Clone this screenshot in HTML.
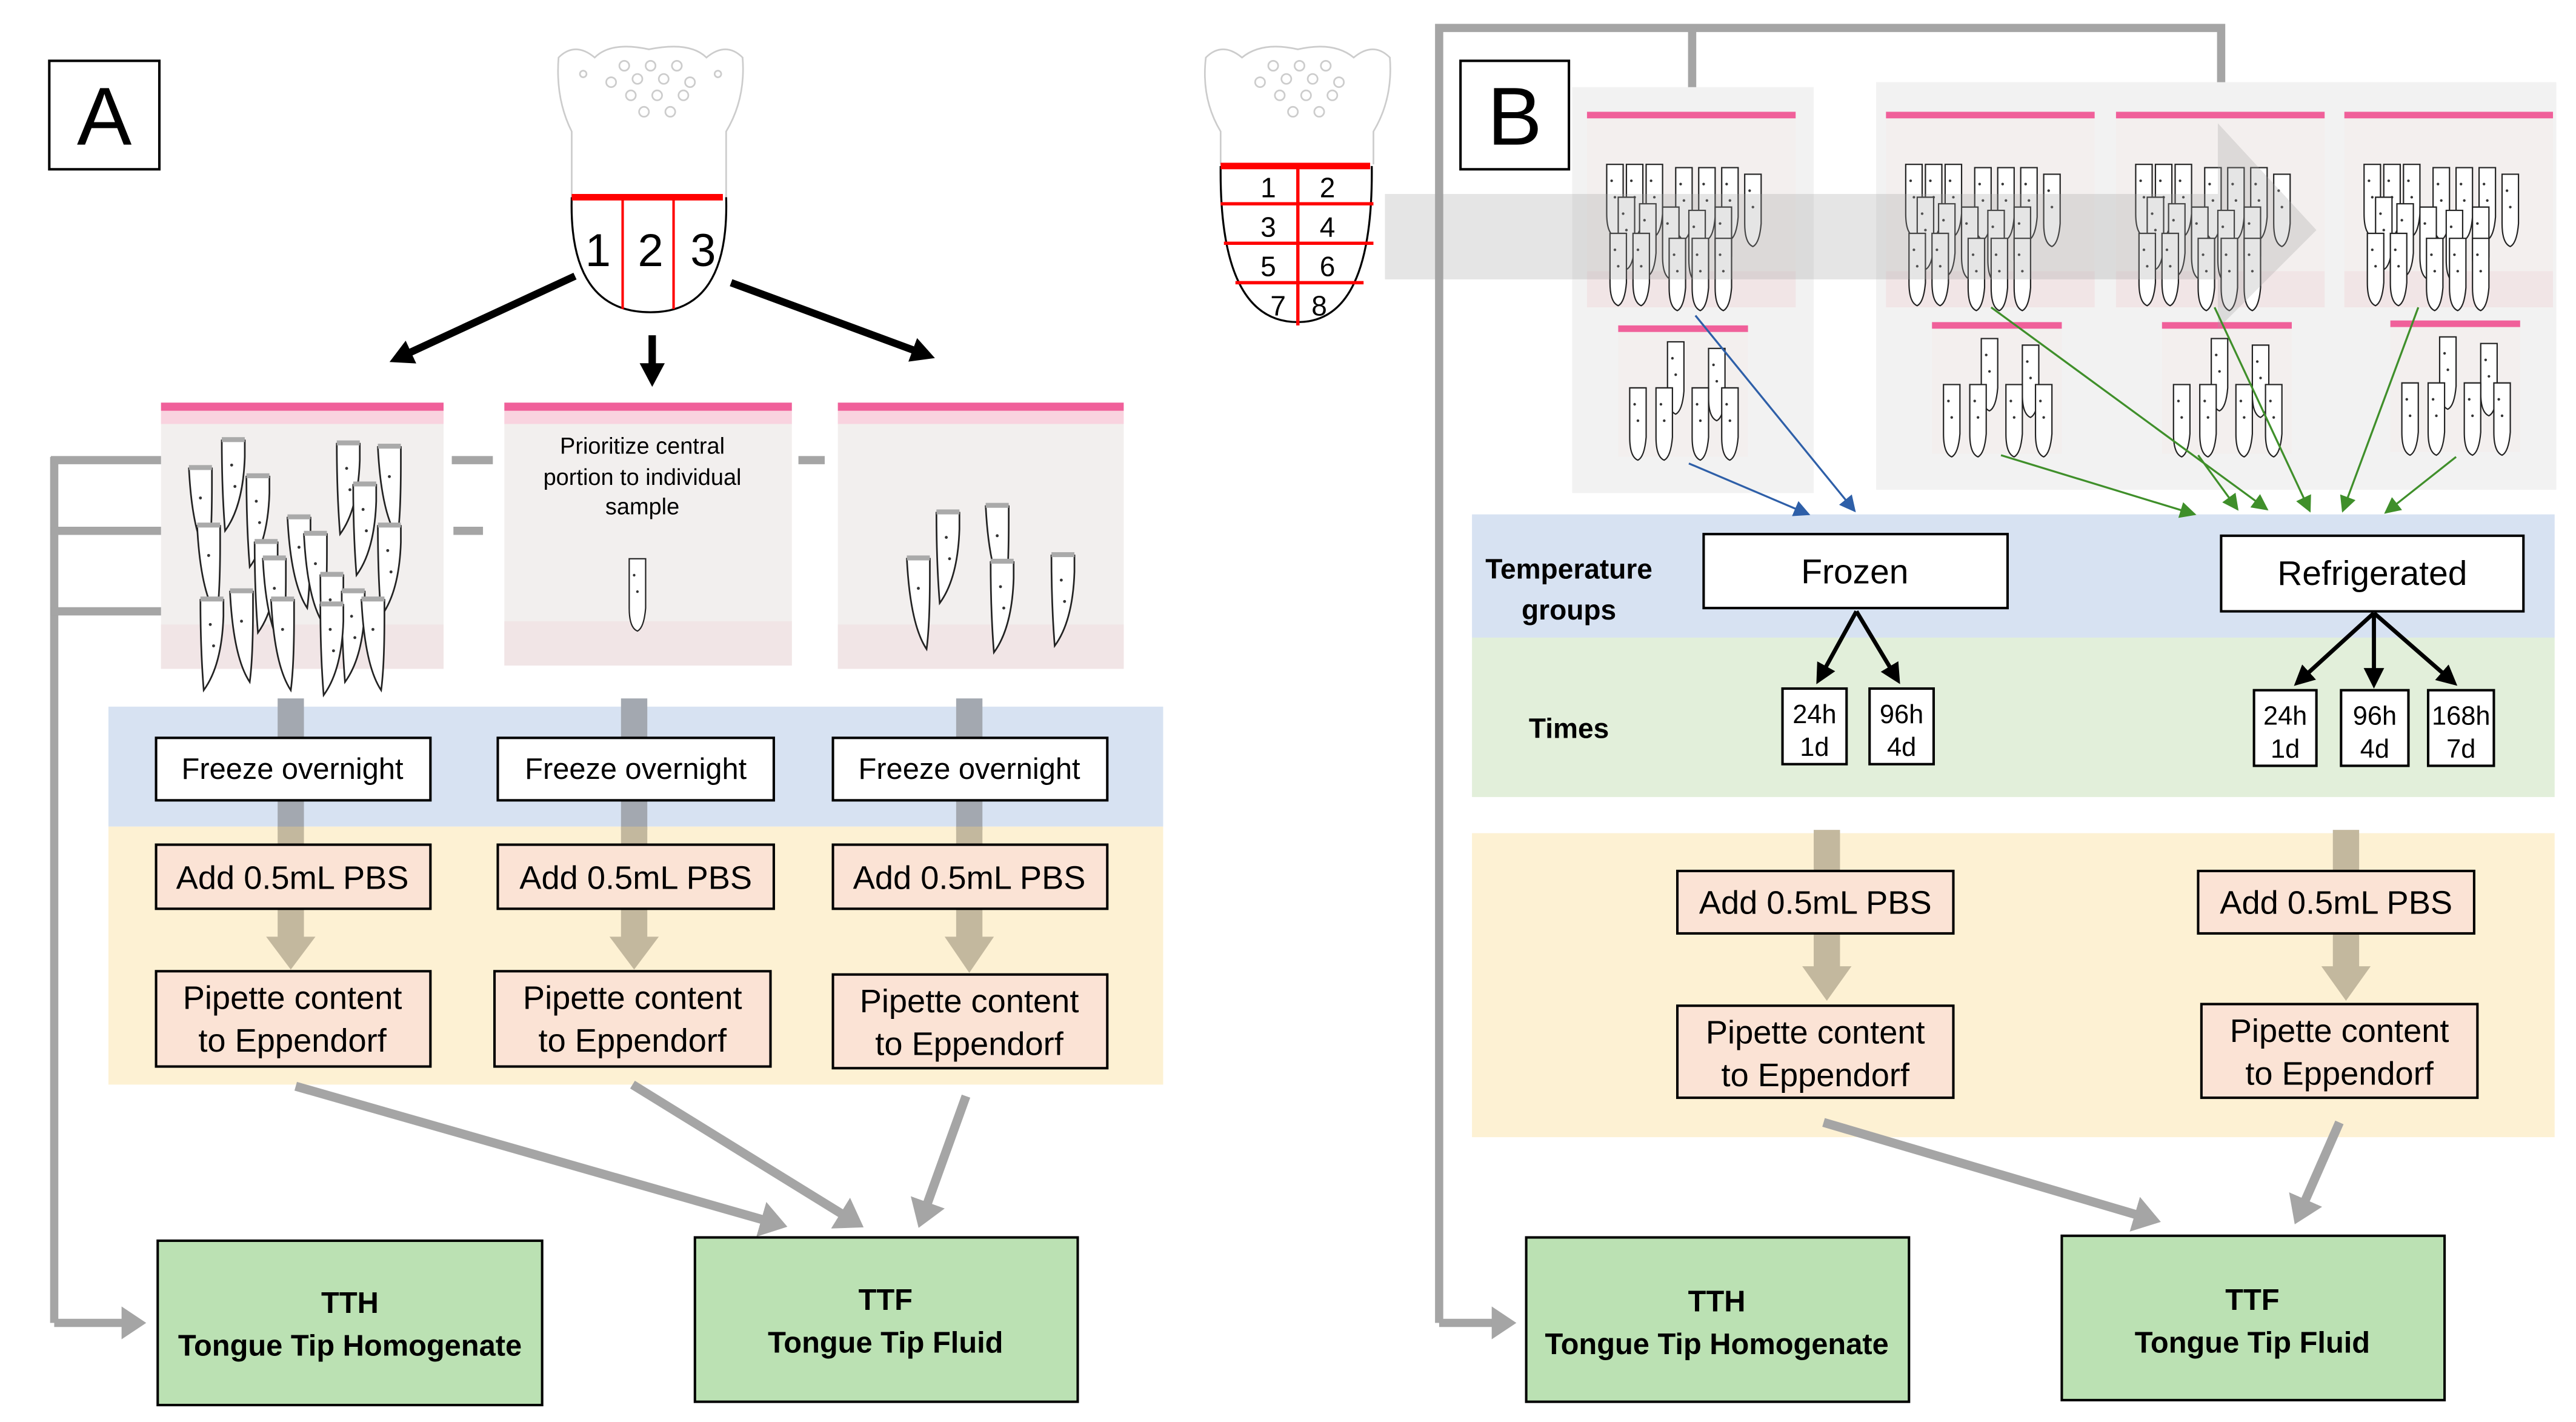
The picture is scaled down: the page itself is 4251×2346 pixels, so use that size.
<!DOCTYPE html>
<html><head><meta charset="utf-8"><style>
html,body{margin:0;padding:0;background:#fff}
svg{display:block}
text{font-family:"Liberation Sans Narrow","Liberation Sans",sans-serif}
</style></head><body>
<svg width="4251" height="2346" viewBox="0 0 1568 865.3" xmlns="http://www.w3.org/2000/svg">
<defs>
<marker id="ab" markerWidth="4" markerHeight="4" refX="2" refY="2" orient="auto" markerUnits="strokeWidth"><path d="M0,0.3 L3.2,2 L0,3.7 Z" fill="#000"/></marker>
<marker id="ag" markerWidth="4" markerHeight="4" refX="2" refY="2" orient="auto" markerUnits="strokeWidth"><path d="M0,0 L3,2 L0,4 Z" fill="#a5a5a5"/></marker>
<marker id="ab2" markerWidth="5" markerHeight="5" refX="3" refY="2.5" orient="auto" markerUnits="strokeWidth"><path d="M0,0 L5,2.5 L0,5 Z" fill="#000"/></marker>
<marker id="bl" markerWidth="10" markerHeight="10" refX="9" refY="5" orient="auto" markerUnits="userSpaceOnUse"><path d="M0,0 L10,5 L0,10 Z" fill="#2e5fa8"/></marker>
<marker id="gr" markerWidth="10" markerHeight="10" refX="9" refY="5" orient="auto" markerUnits="userSpaceOnUse"><path d="M0,0 L10,5 L0,10 Z" fill="#3f8f2a"/></marker>
<g id="pc"><path d="M0,0 L14,0 L14,10 Q13,40 2,55 Q0,30 0,0 Z" fill="#fff" stroke="#222" stroke-width="1"/><rect x="0" y="-2" width="14" height="3" fill="#aaa"/><circle cx="6" cy="15" r="0.9" fill="#333"/><circle cx="8" cy="28" r="0.9" fill="#333"/></g>
<g id="pc2"><path d="M0,0 L14,0 L14,10 Q14,40 12,55 Q2,40 0,0 Z" fill="#fff" stroke="#222" stroke-width="1"/><rect x="0" y="-2" width="14" height="3" fill="#aaa"/><circle cx="7" cy="18" r="0.9" fill="#333"/></g>
<g id="sp"><path d="M0,0 L10,0 L10,30 Q9,42 5,44 Q0,42 0,30 Z" fill="#fff" stroke="#222" stroke-width="0.8"/><circle cx="5" cy="20" r="0.8" fill="#333"/><circle cx="3" cy="10" r="0.8" fill="#333"/></g>
</defs>

<!-- ============ PANEL A ============ -->
<rect x="30" y="37" width="67" height="66" fill="#fff" stroke="#000" stroke-width="1.5"/>
<text x="63.5" y="88" font-size="50" text-anchor="middle" style="font-family:'Liberation Sans',sans-serif">A</text>

<!-- tongue A -->
<g fill="none" stroke="#ccc" stroke-width="1">
<path d="M348,120 L348,80 Q338,60 340,35 Q350,25 362,35 Q372,25 395,30 Q420,25 430,35 Q442,25 452,35 Q454,60 442,80 L442,120"/>
<circle cx="380" cy="40" r="3"/><circle cx="388" cy="48" r="3"/><circle cx="396" cy="40" r="3"/><circle cx="404" cy="48" r="3"/><circle cx="412" cy="40" r="3"/><circle cx="384" cy="58" r="3"/><circle cx="400" cy="58" r="3"/><circle cx="416" cy="58" r="3"/><circle cx="372" cy="50" r="3"/><circle cx="420" cy="50" r="3"/><circle cx="392" cy="68" r="3"/><circle cx="408" cy="68" r="3"/><circle cx="355" cy="45" r="2"/><circle cx="437" cy="45" r="2"/>
</g>
<path d="M348,120 Q346,190 396,190 Q444,190 442,120" fill="#fff" stroke="#000" stroke-width="1.2"/>
<line x1="348" y1="120" x2="440" y2="120" stroke="#f00" stroke-width="4"/>
<line x1="379" y1="120" x2="379" y2="188" stroke="#f00" stroke-width="1.5"/>
<line x1="410" y1="120" x2="410" y2="188" stroke="#f00" stroke-width="1.5"/>
<text x="364" y="162" font-size="28" text-anchor="middle">1</text>
<text x="396" y="162" font-size="28" text-anchor="middle">2</text>
<text x="428" y="162" font-size="28" text-anchor="middle">3</text>

<!-- black arrows A -->
<line x1="350" y1="168" x2="242" y2="218" stroke="#000" stroke-width="4.5" marker-end="url(#ab)"/>
<line x1="397" y1="204" x2="397" y2="230" stroke="#000" stroke-width="4.5" marker-end="url(#ab)"/>
<line x1="445" y1="172" x2="564" y2="216" stroke="#000" stroke-width="4.5" marker-end="url(#ab)"/>

<!-- gray left connectors A -->
<g stroke="#a5a5a5" stroke-width="5" fill="none">
<line x1="33" y1="278" x2="33" y2="805"/>
<line x1="31" y1="280" x2="100" y2="280"/>
<line x1="31" y1="323" x2="100" y2="323"/>
<line x1="31" y1="372" x2="100" y2="372"/>
<line x1="275" y1="280" x2="300" y2="280"/>
<line x1="276" y1="323" x2="294" y2="323"/>
<line x1="486" y1="280" x2="502" y2="280"/>
<line x1="33" y1="805" x2="84" y2="805" marker-end="url(#ag)"/>
</g>

<!-- bags A -->
<g>
<rect x="98" y="245" width="172" height="162" fill="#f2efee"/>
<rect x="98" y="245" width="172" height="5" fill="#f0609a"/>
<rect x="98" y="250" width="172" height="8" fill="#f9d3df"/>
<rect x="98" y="380" width="172" height="27" fill="#f1e5e6"/>
<use href="#pc" x="135" y="268"/><use href="#pc2" x="115" y="285"/><use href="#pc" x="150" y="290"/><use href="#pc2" x="175" y="315"/><use href="#pc" x="205" y="270"/><use href="#pc2" x="230" y="272"/><use href="#pc" x="215" y="295"/><use href="#pc2" x="120" y="320"/><use href="#pc" x="155" y="330"/><use href="#pc2" x="185" y="325"/><use href="#pc" x="230" y="320"/><use href="#pc2" x="160" y="340"/><use href="#pc" x="195" y="350"/><use href="#pc2" x="140" y="360"/><use href="#pc" x="122" y="365"/><use href="#pc2" x="165" y="365"/><use href="#pc" x="208" y="360"/><use href="#pc2" x="220" y="365"/><use href="#pc" x="195" y="368"/>
</g>
<g>
<rect x="307" y="245" width="175" height="160" fill="#f2efee"/>
<rect x="307" y="245" width="175" height="5" fill="#f0609a"/>
<rect x="307" y="250" width="175" height="8" fill="#f9d3df"/>
<rect x="307" y="378" width="175" height="27" fill="#f1e5e6"/>
<text x="391" y="276" font-size="14" text-anchor="middle">Prioritize central</text>
<text x="391" y="295" font-size="14" text-anchor="middle">portion to individual</text>
<text x="391" y="313" font-size="14" text-anchor="middle">sample</text>
<use href="#sp" x="383" y="340"/>
</g>
<g>
<rect x="510" y="245" width="174" height="162" fill="#f2efee"/>
<rect x="510" y="245" width="174" height="5" fill="#f0609a"/>
<rect x="510" y="250" width="174" height="8" fill="#f9d3df"/>
<rect x="510" y="380" width="174" height="27" fill="#f1e5e6"/>
<use href="#pc" x="570" y="312"/><use href="#pc2" x="600" y="308"/><use href="#pc" x="640" y="338"/><use href="#pc2" x="552" y="340"/><use href="#pc" x="603" y="342"/>
</g>

<!-- bands A -->
<rect x="66" y="430" width="642" height="73" fill="#d7e2f2"/>
<rect x="66" y="503" width="642" height="157" fill="#fdf1d3"/>
<g>
<rect x="169" y="425" width="16" height="80" fill="#a3a8b0"/>
<rect x="378" y="425" width="16" height="80" fill="#a3a8b0"/>
<rect x="582" y="425" width="16" height="80" fill="#a3a8b0"/>
<rect x="169" y="503" width="16" height="70" fill="#c3b89e"/>
<rect x="378" y="503" width="16" height="70" fill="#c3b89e"/>
<rect x="582" y="503" width="16" height="70" fill="#c3b89e"/>
<path d="M162,570 L192,570 L177,590 Z" fill="#c3b89e"/>
<path d="M371,570 L401,570 L386,590 Z" fill="#c3b89e"/>
<path d="M575,570 L605,570 L590,592 Z" fill="#c3b89e"/>
</g>
<g stroke="#000" stroke-width="1.5">
<rect x="95" y="449" width="167" height="38" fill="#fff"/>
<rect x="303" y="449" width="168" height="38" fill="#fff"/>
<rect x="507" y="449" width="167" height="38" fill="#fff"/>
<rect x="95" y="514" width="167" height="39" fill="#fbe3d5"/>
<rect x="303" y="514" width="168" height="39" fill="#fbe3d5"/>
<rect x="507" y="514" width="167" height="39" fill="#fbe3d5"/>
<rect x="95" y="591" width="167" height="58" fill="#fbe3d5"/>
<rect x="301" y="591" width="168" height="58" fill="#fbe3d5"/>
<rect x="507" y="593" width="167" height="57" fill="#fbe3d5"/>
</g>
<g font-size="18" text-anchor="middle">
<text x="178" y="474">Freeze overnight</text>
<text x="387" y="474">Freeze overnight</text>
<text x="590" y="474">Freeze overnight</text>
</g>
<g font-size="20" text-anchor="middle">
<text x="178" y="541">Add 0.5mL PBS</text>
<text x="387" y="541">Add 0.5mL PBS</text>
<text x="590" y="541">Add 0.5mL PBS</text>
<text x="178" y="614">Pipette content</text><text x="178" y="640">to Eppendorf</text>
<text x="385" y="614">Pipette content</text><text x="385" y="640">to Eppendorf</text>
<text x="590" y="616">Pipette content</text><text x="590" y="642">to Eppendorf</text>
</g>

<!-- gray arrows A -->
<g stroke="#a5a5a5" stroke-width="5.5" fill="none">
<line x1="180" y1="661" x2="474" y2="745" marker-end="url(#ag)"/>
<line x1="385" y1="660" x2="521" y2="744" marker-end="url(#ag)"/>
<line x1="588" y1="667" x2="561" y2="742" marker-end="url(#ag)"/>
</g>

<!-- green A -->
<rect x="96" y="755" width="234" height="100" fill="#bbe1b3" stroke="#000" stroke-width="1.5"/>
<rect x="423" y="753" width="233" height="100" fill="#bbe1b3" stroke="#000" stroke-width="1.5"/>
<g font-size="18" font-weight="bold" text-anchor="middle">
<text x="213" y="799">TTH</text><text x="213" y="825">Tongue Tip Homogenate</text>
<text x="539" y="797">TTF</text><text x="539" y="823">Tongue Tip Fluid</text>
</g>

<!-- ============ PANEL B ============ -->
<!-- tongue B -->
<g fill="none" stroke="#ccc" stroke-width="1">
<path d="M743,100 L743,80 Q731,60 734,35 Q744,25 756,35 Q768,25 790,30 Q812,25 824,35 Q836,25 846,35 Q848,60 836,80 L836,100"/>
<circle cx="775" cy="40" r="3"/><circle cx="783" cy="48" r="3"/><circle cx="791" cy="40" r="3"/><circle cx="799" cy="48" r="3"/><circle cx="807" cy="40" r="3"/><circle cx="779" cy="58" r="3"/><circle cx="795" cy="58" r="3"/><circle cx="811" cy="58" r="3"/><circle cx="767" cy="50" r="3"/><circle cx="815" cy="50" r="3"/><circle cx="787" cy="68" r="3"/><circle cx="803" cy="68" r="3"/>
</g>
<path d="M743,101 Q742,196 790,196 Q836,196 835,101" fill="#fff" stroke="#000" stroke-width="1.2"/>
<line x1="743" y1="101" x2="834" y2="101" stroke="#f00" stroke-width="4"/>
<line x1="743" y1="124" x2="836" y2="124" stroke="#f00" stroke-width="2"/>
<line x1="745" y1="148" x2="836" y2="148" stroke="#f00" stroke-width="2"/>
<line x1="752" y1="172" x2="830" y2="172" stroke="#f00" stroke-width="2"/>
<line x1="790" y1="100" x2="790" y2="198" stroke="#f00" stroke-width="2"/>
<g font-size="17" text-anchor="middle">
<text x="772" y="120">1</text><text x="808" y="120">2</text>
<text x="772" y="144">3</text><text x="808" y="144">4</text>
<text x="772" y="168">5</text><text x="808" y="168">6</text>
<text x="778" y="192">7</text><text x="803" y="192">8</text>
</g>

<!-- gray frame B -->
<g stroke="#a5a5a5" stroke-width="5" fill="none">
<path d="M876,805 L876,17 L1352,17 L1352,55"/>
<line x1="1030" y1="17" x2="1030" y2="55"/>
<line x1="876" y1="805" x2="918" y2="805" marker-end="url(#ag)"/>
</g>

<rect x="889" y="37" width="66" height="66" fill="#fff" stroke="#000" stroke-width="1.5"/>
<text x="922" y="88" font-size="50" text-anchor="middle" style="font-family:'Liberation Sans',sans-serif">B</text>

<rect x="957" y="53" width="147" height="247" fill="#f2f2f2"/>
<rect x="1142" y="50" width="414" height="248" fill="#f2f2f2"/>

<!-- bags B -->
<g id="bb">
<rect x="966" y="68" width="127" height="119" fill="#f3efee"/>
<rect x="966" y="68" width="127" height="4" fill="#f0609a"/>
<rect x="966" y="165" width="127" height="22" fill="#f1e5e6"/>
<use href="#sp" x="978" y="100"/><use href="#sp" x="990" y="100"/><use href="#sp" x="1002" y="100"/><use href="#sp" x="1020" y="102"/><use href="#sp" x="1034" y="102"/><use href="#sp" x="1048" y="102"/><use href="#sp" x="1062" y="106"/><use href="#sp" x="985" y="120"/><use href="#sp" x="998" y="124"/><use href="#sp" x="1012" y="126"/><use href="#sp" x="1028" y="128"/><use href="#sp" x="1044" y="126"/><use href="#sp" x="980" y="142"/><use href="#sp" x="994" y="142"/><use href="#sp" x="1016" y="145"/><use href="#sp" x="1030" y="145"/><use href="#sp" x="1044" y="145"/>
</g>
<use href="#bb" x="182"/><use href="#bb" x="322"/><use href="#bb" x="461"/>
<g id="sb">
<rect x="985" y="198" width="79" height="80" fill="#f3efee"/>
<rect x="985" y="198" width="79" height="4" fill="#f0609a"/>
<use href="#sp" x="1015" y="208"/><use href="#sp" x="1040" y="212"/><use href="#sp" x="992" y="236"/><use href="#sp" x="1008" y="236"/><use href="#sp" x="1030" y="236"/><use href="#sp" x="1048" y="236"/>
</g>
<use href="#sb" x="191" y="-2"/><use href="#sb" x="331" y="-2"/><use href="#sb" x="470" y="-3"/>

<!-- big translucent arrow -->
<path d="M843,118 L1350,118 L1350,75 L1410,140 L1350,200 L1350,170 L843,170 Z" fill="#a0a0a0" fill-opacity="0.28"/>

<!-- bands B -->
<rect x="896" y="313" width="659" height="75" fill="#d7e2f2"/>
<rect x="896" y="388" width="659" height="97" fill="#e2efda"/>
<rect x="896" y="507" width="659" height="185" fill="#fdf1d3"/>

<!-- blue/green thin arrows -->
<g stroke-width="1.2" fill="none">
<line x1="1032" y1="192" x2="1129" y2="311" stroke="#2e5fa8" marker-end="url(#bl)"/>
<line x1="1028" y1="282" x2="1101" y2="313" stroke="#2e5fa8" marker-end="url(#bl)"/>
<line x1="1212" y1="187" x2="1380" y2="310" stroke="#3f8f2a" marker-end="url(#gr)"/>
<line x1="1218" y1="277" x2="1336" y2="313" stroke="#3f8f2a" marker-end="url(#gr)"/>
<line x1="1348" y1="187" x2="1406" y2="311" stroke="#3f8f2a" marker-end="url(#gr)"/>
<line x1="1338" y1="277" x2="1362" y2="310" stroke="#3f8f2a" marker-end="url(#gr)"/>
<line x1="1472" y1="187" x2="1426" y2="311" stroke="#3f8f2a" marker-end="url(#gr)"/>
<line x1="1495" y1="278" x2="1452" y2="312" stroke="#3f8f2a" marker-end="url(#gr)"/>
</g>

<g font-size="17" font-weight="bold" text-anchor="middle">
<text x="955" y="352">Temperature</text><text x="955" y="377">groups</text>
<text x="955" y="449">Times</text>
</g>
<g stroke="#000" stroke-width="1.5">
<rect x="1037" y="325" width="185" height="45" fill="#fff"/>
<rect x="1352" y="326" width="184" height="46" fill="#fff"/>
<rect x="1085" y="419" width="39" height="46" fill="#fff"/>
<rect x="1138" y="419" width="39" height="46" fill="#fff"/>
<rect x="1372" y="420" width="38" height="46" fill="#fff"/>
<rect x="1425" y="420" width="41" height="46" fill="#fff"/>
<rect x="1478" y="420" width="40" height="46" fill="#fff"/>
</g>
<text x="1129" y="355" font-size="21" text-anchor="middle">Frozen</text>
<text x="1444" y="356" font-size="21" text-anchor="middle">Refrigerated</text>
<g font-size="16" text-anchor="middle">
<text x="1104.5" y="440">24h</text><text x="1104.5" y="460">1d</text>
<text x="1157.5" y="440">96h</text><text x="1157.5" y="460">4d</text>
<text x="1391" y="441">24h</text><text x="1391" y="461">1d</text>
<text x="1445.5" y="441">96h</text><text x="1445.5" y="461">4d</text>
<text x="1498" y="441">168h</text><text x="1498" y="461">7d</text>
</g>
<g stroke="#000" stroke-width="2.5">
<line x1="1130" y1="372" x2="1108" y2="412" marker-end="url(#ab2)"/>
<line x1="1130" y1="372" x2="1154" y2="412" marker-end="url(#ab2)"/>
<line x1="1445" y1="373" x2="1400" y2="414" marker-end="url(#ab2)"/>
<line x1="1445" y1="373" x2="1445" y2="414" marker-end="url(#ab2)"/>
<line x1="1445" y1="373" x2="1492" y2="414" marker-end="url(#ab2)"/>
</g>

<!-- beige connectors B -->
<rect x="1104" y="505" width="16" height="85" fill="#c3b89e"/>
<rect x="1420" y="505" width="16" height="85" fill="#c3b89e"/>
<path d="M1097,588 L1127,588 L1112,609 Z" fill="#c3b89e"/>
<path d="M1413,588 L1443,588 L1428,609 Z" fill="#c3b89e"/>
<g stroke="#000" stroke-width="1.5" fill="#fbe3d5">
<rect x="1021" y="530" width="168" height="38"/>
<rect x="1338" y="530" width="168" height="38"/>
<rect x="1021" y="612" width="168" height="56"/>
<rect x="1340" y="611" width="168" height="57"/>
</g>
<g font-size="20" text-anchor="middle">
<text x="1105" y="556">Add 0.5mL PBS</text>
<text x="1422" y="556">Add 0.5mL PBS</text>
<text x="1105" y="635">Pipette content</text><text x="1105" y="661">to Eppendorf</text>
<text x="1424" y="634">Pipette content</text><text x="1424" y="660">to Eppendorf</text>
</g>
<g stroke="#a5a5a5" stroke-width="5.5" fill="none">
<line x1="1110" y1="683" x2="1310" y2="742" marker-end="url(#ag)"/>
<line x1="1424" y1="683" x2="1399" y2="740" marker-end="url(#ag)"/>
</g>
<rect x="929" y="753" width="233" height="100" fill="#bbe1b3" stroke="#000" stroke-width="1.5"/>
<rect x="1255" y="752" width="233" height="100" fill="#bbe1b3" stroke="#000" stroke-width="1.5"/>
<g font-size="18" font-weight="bold" text-anchor="middle">
<text x="1045" y="798">TTH</text><text x="1045" y="824">Tongue Tip Homogenate</text>
<text x="1371" y="797">TTF</text><text x="1371" y="823">Tongue Tip Fluid</text>
</g>
</svg>
</body></html>
